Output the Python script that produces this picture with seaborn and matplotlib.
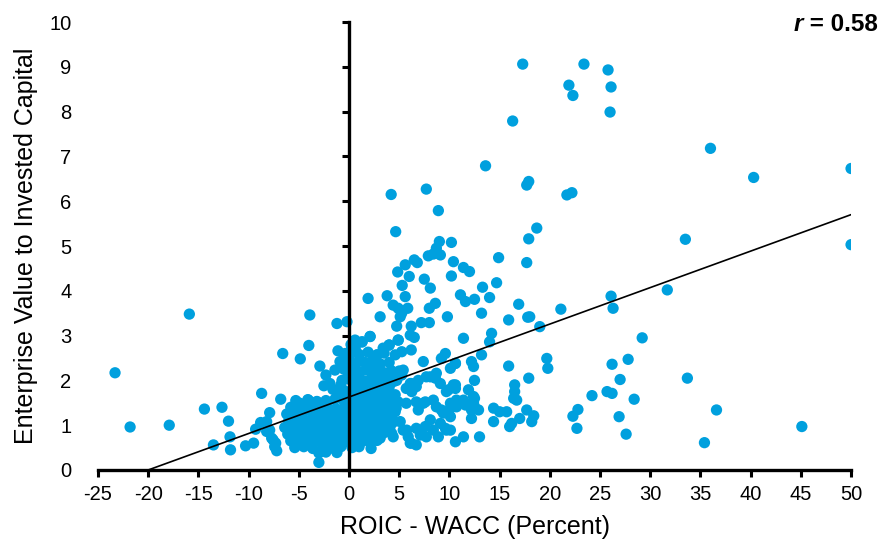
import matplotlib
matplotlib.use("Agg")
import matplotlib.pyplot as plt
import seaborn as sns
import pandas as pd

# ---- data ----
# left-side / negative spread companies
roic_left = [-23.3, -21.8, -17.9, -15.9, -14.4, -12.65, -12.0, -13.5, -11.85, -11.8,
             -10.3, -9.5, -8.7, -7.9, -9.3, -8.8, -8.2, -7.7, -7.3, -7.2,
             -6.8, -6.6, -4.85, -4.0, -3.9, -2.9, -1.2, -0.2, -1.1, -1.4,
             -2.3, -0.9, 0.0, -2.5, -1.9, -3.0, -4.05, -4.9, -3.2, -8.2,
             -7.9, -7.55, -7.4]
ev_left = [2.17, 0.96, 1.0, 3.48, 1.36, 1.40, 1.09, 0.56, 0.74, 0.45,
           0.54, 0.6, 1.71, 1.28, 0.91, 1.06, 0.86, 0.71, 0.6, 0.43,
           1.58, 2.6, 2.48, 2.78, 3.46, 2.32, 3.27, 3.31, 2.66, 2.23,
           2.12, 2.42, 2.49, 1.88, 1.93, 0.17, 1.56, 1.49, 1.52, 1.08,
           0.89, 0.67, 0.52]

# dense cluster just below zero spread
roic_dense_neg = [-5.3, -4.1, -3.2, -2.3, -1.4, -0.5,
                  -5.8, -4.9, -4.0, -3.1, -2.2, -1.3, -0.4,
                  -6.2, -5.4, -4.6, -3.6, -2.7, -1.8, -0.9, -0.2,
                  -6.0, -5.1, -4.2, -3.3, -2.4, -1.5, -0.6,
                  -6.4, -5.6, -4.7, -3.8, -2.9, -2.0, -1.1, -0.3,
                  -6.1, -5.2, -4.3, -3.4, -2.5, -1.6, -0.7,
                  -5.8, -4.9, -4.0, -3.1, -2.2, -1.3, -0.4,
                  -5.4, -4.5, -3.6, -2.6, -1.7, -0.8,
                  -3.0, -2.3, -1.2,
                  -0.3, -0.8, -0.2, -1.1, -0.5, -1.6, -0.4, -0.7]
ev_dense_neg = [1.55, 1.57, 1.53, 1.55, 1.58, 1.54,
                1.40, 1.38, 1.42, 1.39, 1.41, 1.37, 1.40,
                1.25, 1.24, 1.27, 1.23, 1.26, 1.24, 1.27, 1.22,
                1.10, 1.12, 1.08, 1.11, 1.09, 1.12, 1.08,
                0.95, 0.97, 0.93, 0.96, 0.94, 0.97, 0.93, 0.96,
                0.80, 0.82, 0.78, 0.81, 0.79, 0.82, 0.78,
                0.65, 0.67, 0.63, 0.66, 0.64, 0.67, 0.63,
                0.50, 0.52, 0.48, 0.51, 0.49, 0.52,
                0.38, 0.40, 0.39,
                1.75, 1.90, 2.05, 1.72, 2.25, 1.80, 2.60, 2.00]

# dense cluster just above zero spread
roic_dense_pos = [0.3, 1.0, 1.9, 2.8, 3.5,
                  0.0, 0.7, 1.5, 2.3, 3.1, 4.0,
                  0.4, 1.1, 1.8, 2.6, 3.4, 4.2, 5.0,
                  0.1, 0.8, 1.5, 2.2, 3.0, 3.7, 4.5,
                  0.5, 1.2, 1.9, 2.6, 3.3, 4.0,
                  0.2, 0.9, 1.6, 2.3, 3.0, 3.8, 4.6,
                  0.5, 1.3, 2.0, 2.7, 3.5, 4.3,
                  0.1, 0.8, 1.6, 2.4, 3.1, 3.9, 4.7,
                  0.4, 1.2, 1.9, 2.7, 3.4, 4.2,
                  0.1, 0.8, 1.5, 2.3, 3.0, 3.8, 4.5,
                  0.4, 1.1, 1.9, 2.6, 3.4, 4.1,
                  0.2, 0.9, 1.6, 2.4, 3.1,
                  0.5, 1.3, 2.0, 2.8,
                  0.3, 1.0, 2.2,
                  0.2, 0.6, 1.3, 2.1, 0.1, 0.6, 3.4, 2.8, 2.3, 4.0, 4.9]
ev_dense_pos = [2.62, 2.58, 2.63, 2.57, 2.61,
                2.42, 2.38, 2.41, 2.43, 2.37, 2.40,
                2.22, 2.19, 2.23, 2.20, 2.18, 2.22, 2.21,
                2.02, 2.05, 1.99, 2.03, 2.01, 2.04, 1.98,
                1.86, 1.84, 1.87, 1.83, 1.86, 1.85,
                1.70, 1.72, 1.68, 1.71, 1.69, 1.72, 1.68,
                1.55, 1.57, 1.53, 1.56, 1.54, 1.57,
                1.40, 1.42, 1.38, 1.41, 1.39, 1.42, 1.38,
                1.25, 1.27, 1.23, 1.26, 1.24, 1.27,
                1.10, 1.12, 1.08, 1.11, 1.09, 1.12, 1.08,
                0.95, 0.97, 0.93, 0.96, 0.94, 0.97,
                0.80, 0.82, 0.78, 0.81, 0.79,
                0.65, 0.67, 0.63, 0.66,
                0.50, 0.52, 0.48,
                2.80, 2.90, 2.86, 2.98, 2.64, 2.72, 2.72, 2.57, 2.38, 2.79, 2.90]

# moderate positive spread
roic_mid = [7.4, 8.7, 7.7, 6.9, 6.2, 9.9, 8.4, 7.6, 6.7, 5.7, 9.2, 10.1, 9.6, 8.9, 8.4,
            7.6, 6.7, 7.1, 6.2, 6.7, 5.9, 5.4, 5.1, 4.6, 4.9, 9.6, 9.2, 10.6, 10.1, 8.1,
            8.6, 9.1, 9.7, 10.6, 10.4, 6.1, 5.7, 6.7, 6.25, 4.25, 5.4, 5.25, 4.75, 4.1, 3.3,
            2.9, 8.1, 9.1, 9.7, 7.7, 6.1, 5.75, 4.25, 4.4, 3.4, 3.1, 2.3, 1.75, 1.4, 0.4,
            1.1, 6.9, 7.4, 8.7, 9.4, 10.1, 10.7, 11.4, 12.4, 12.5, 12.2, 5.25, 4.6, 6.2]
ev_mid = [2.42, 2.16, 2.08, 2.0, 1.93, 1.79, 1.56, 1.52, 1.52, 1.49, 1.34, 1.19, 0.93, 0.74, 0.89,
          0.97, 0.93, 0.78, 0.6, 0.56, 0.74, 0.89, 1.08, 1.3, 1.52, 2.6, 2.49, 2.38, 2.27, 2.08,
          2.05, 1.93, 1.75, 1.82, 1.9, 1.93, 1.82, 1.86, 1.75, 2.19, 2.23, 2.12, 2.0, 1.93, 2.02,
          1.86, 1.12, 1.04, 0.89, 0.74, 0.6, 0.89, 0.82, 0.74, 0.82, 0.71, 0.74, 0.82, 0.67, 0.67,
          0.6, 1.34, 1.49, 1.41, 1.27, 1.49, 1.56, 1.56, 1.64, 1.41, 1.34, 2.64, 2.57, 2.68]

# upper band (EV/IC 3 - 6.3) at low positive spread
roic_upper = [4.2, 7.7, 8.9, 4.65, 9.0, 8.7, 8.4, 7.9, 9.1, 10.2, 6.5, 6.8, 5.6, 4.85, 6.0,
              10.4, 10.2, 7.5, 8.1, 5.3, 5.6, 1.9, 3.8, 4.4, 4.9, 5.25, 5.1, 5.85, 8.6, 8.0,
              3.1, 9.8, 4.75, 6.2, 7.2, 8.0, 6.1, 6.5, 2.1, 1.3, 4.9, 4.0, 0.6, 0.1]
ev_upper = [6.15, 6.27, 5.79, 5.32, 5.1, 4.95, 4.82, 4.78, 4.8, 5.08, 4.69, 4.63, 4.58, 4.42, 4.32,
            4.65, 4.33, 4.26, 4.06, 4.12, 3.87, 3.83, 3.89, 3.68, 3.61, 3.5, 3.42, 3.61, 3.72, 3.61,
            3.42, 3.42, 3.21, 3.21, 3.29, 3.29, 3.01, 2.96, 2.98, 2.86, 2.9, 2.79, 2.72, 2.64]

# higher spread companies
roic_high = [17.7, 17.9, 18.7, 17.9, 14.9, 17.7, 11.4, 12.0, 14.7, 13.3, 14.0, 11.1, 11.6, 12.5, 16.9,
             13.2, 15.9, 17.8, 19.0, 14.2, 14.0, 11.4, 13.2, 10.6, 12.2, 12.4, 15.9, 19.7, 19.8, 17.9,
             16.5, 16.5, 16.4, 16.7, 12.5, 10.6, 11.9, 12.5, 12.4, 11.6, 10.7, 10.1, 12.9, 12.2, 14.4,
             15.0, 15.7, 14.4, 17.7, 18.4, 18.2, 17.0, 16.2, 16.0, 10.1, 11.4, 10.6, 13.0, 18.0, 13.6,
             16.3, 17.3]
ev_high = [6.36, 6.44, 5.4, 5.16, 4.74, 4.63, 4.52, 4.43, 4.18, 4.08, 3.85, 3.91, 3.76, 3.81, 3.7,
           3.5, 3.35, 3.41, 3.2, 3.05, 2.86, 2.94, 2.57, 2.38, 2.42, 2.31, 2.32, 2.49, 2.27, 2.05,
           1.9, 1.75, 1.6, 1.56, 2.0, 1.9, 1.79, 1.6, 1.49, 1.45, 1.41, 1.38, 1.34, 1.15, 1.38,
           1.30, 1.30, 1.08, 1.34, 1.21, 1.08, 1.15, 1.04, 0.97, 0.89, 0.74, 0.63, 0.74, 3.42, 6.79,
           7.79, 9.06]

# very high spread companies
roic_top = [21.1, 26.1, 26.3, 31.7, 29.2, 26.2, 27.8, 27.0, 25.7, 26.2, 24.2, 28.4, 33.7, 22.8, 22.3,
            22.7, 26.9, 27.6, 36.6, 35.4, 45.1, 33.5, 50.0, 50.0, 40.3, 36.0, 21.7, 22.2, 23.4, 25.8,
            26.1, 21.9, 22.3, 26.0]
ev_top = [3.59, 3.88, 3.61, 4.02, 2.95, 2.36, 2.47, 2.02, 1.75, 1.71, 1.66, 1.58, 2.05, 1.35, 1.2,
          0.93, 1.19, 0.8, 1.34, 0.61, 0.97, 5.15, 6.73, 5.03, 6.53, 7.18, 6.14, 6.19, 9.06, 8.93,
          8.55, 8.59, 8.36, 7.99]

# fitted trend line end points
trend_x = [-20, 50]
trend_y = [0.0, 5.7]

x_ticks = list(range(-25, 55, 5))
y_ticks = list(range(0, 11))

roic = roic_left + roic_dense_neg + roic_dense_pos + roic_mid + roic_upper + roic_high + roic_top
ev = ev_left + ev_dense_neg + ev_dense_pos + ev_mid + ev_upper + ev_high + ev_top
df = pd.DataFrame({"roic": roic, "ev": ev})

# ---- style ----
sns.set_theme(style="white")
plt.rcParams["font.family"] = ["Liberation Sans", "DejaVu Sans"]

fig = plt.figure(figsize=(8.81, 5.46), dpi=100)
ax = fig.add_axes([0.1112, 0.1392, 0.966 - 0.1112, 0.9597 - 0.1392])

sns.scatterplot(data=df, x="roic", y="ev", ax=ax, color="#00A0DE", s=66,
                linewidth=0, edgecolor="none", zorder=3)
sns.lineplot(x=trend_x, y=trend_y, ax=ax, color="black", linewidth=1.2, zorder=4)

ax.set_xlim(-25, 50)
ax.set_ylim(0, 10)
ax.set_xticks(x_ticks)
ax.set_xticklabels([str(v) for v in x_ticks], fontsize=14.5)
ax.set_yticks(y_ticks)

for s in ["top", "right"]:
    ax.spines[s].set_visible(False)
ax.spines["bottom"].set_linewidth(2.4)
ax.spines["bottom"].set_color("black")
ax.spines["left"].set_position(("data", 0))
ax.spines["left"].set_linewidth(2.4)
ax.spines["left"].set_color("black")
ax.spines["left"].set_zorder(5)

ax.tick_params(axis="x", bottom=True, direction="out", length=5, width=2.2,
               color="black", pad=6, labelsize=14.5, labelcolor="black")
ax.tick_params(axis="y", left=True, direction="out", length=5, width=2.2,
               color="black", labelleft=False)

sec = ax.secondary_yaxis("left")
sec.set_yticks(y_ticks)
sec.set_yticklabels([str(v) for v in y_ticks], fontsize=14.5)
sec.tick_params(axis="y", length=0, pad=19, labelcolor="black")
for s in sec.spines.values():
    s.set_visible(False)
sec.set_ylabel("Enterprise Value to Invested Capital", fontsize=18, labelpad=8, color="black")

ax.set_xlabel("ROIC - WACC (Percent)", fontsize=18, labelpad=8, color="black")
ax.set_ylabel("")

# correlation annotation: italic bold "r" followed by bold "= 0.58"
t_rest = fig.text(0.996, 0.955, " = 0.58", ha="right", va="center",
                  fontsize=17.5, fontweight="bold", color="black")
fig.canvas.draw()
bb = t_rest.get_window_extent(renderer=fig.canvas.get_renderer())
x_left = bb.x0 / fig.bbox.width
fig.text(x_left, 0.955, "r", ha="right", va="center", fontsize=17.5,
         fontweight="bold", style="italic", color="black")

fig.savefig("out.png", dpi=100)
